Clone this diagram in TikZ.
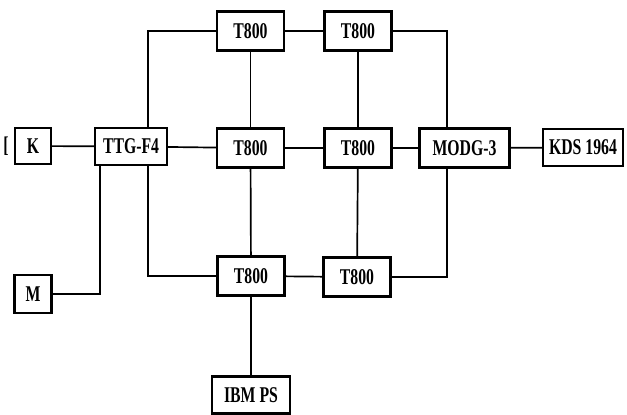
\documentclass[tikz,border=0pt]{standalone}
\usepackage{fontspec}
\setmainfont{Liberation Serif}[FakeStretch=0.7]
\usepackage{tikz}
\usetikzlibrary{positioning,calc}
\tikzset{
  box/.style={draw, line width=1.5pt, fill=white, align=center, inner sep=1pt,
              minimum width=16.75mm, minimum height=9.75mm, font=\fontsize{16}{18}\selectfont\bfseries},
  link/.style={line width=1.2pt},
}

\begin{document}
\begin{tikzpicture}[x=0.025cm, y=-0.025cm]
    \useasboundingbox (0,0) rectangle (627,415);
    % left side
    \node[font=\fontsize{16}{18}\selectfont\bfseries, inner sep=0pt] (brk) at (6,146) {[};
    \node[box, minimum width=9mm, minimum height=9mm] (kbd) at (33,146) {K};
    \node[box, minimum width=9.25mm, minimum height=9.5mm] (mon) at (33,294) {M};
    \node[box, minimum width=18mm, minimum height=9.25mm] (ttg) at (131,146.5) {TTG-F4};
    % transputer grid
    \node[box] (t11) at (250.5,31) {T800};
    \node[box] (t12) at (358,31) {T800};
    \node[box] (t21) at (250.5,148) {T800};
    \node[box] (t22) at (358,148) {T800};
    \node[box] (t31) at (251,276) {T800};
    \node[box] (t32) at (357,277) {T800};
    % right side and host
    \node[box, minimum width=22.5mm] (modg) at (464.5,148) {MODG-3};
    \node[box, minimum width=20mm, minimum height=9.25mm] (kds) at (583,147.5) {KDS 1964};
    \node[box, minimum width=19.5mm, minimum height=9.25mm] (ibm) at (251,395) {IBM PS};
    \coordinate (ltap) at (148,146);
    \coordinate (mtap) at (100,146);
    \coordinate (rtap) at (447,148);

    \draw[link] (kbd) -- (ttg);
    \draw[link] (ttg) -- (t21);
    \draw[link] (t21) -- (t22);
    \draw[link] (t22) -- (modg);
    \draw[link] (modg) -- (kds);
    \draw[link] (t11) -- (t12);
    \draw[link] (t31) -- (t32);
    \draw[link] (t11) -- (t21);
    \draw[link] (t21) -- (t31);
    \draw[link] (t31) -- (ibm);
    \draw[link] (t12) -- (t22);
    \draw[link] (t22) -- (t32);
    \draw[link] (t11.west) -| (ttg.north -| ltap);
    \draw[link] (t31.west) -| (ttg.south -| ltap);
    \draw[link] (mon.east) -| (ttg.south -| mtap);
    \draw[link] (t12.east) -| (modg.north -| rtap);
    \draw[link] (t32.east) -| (modg.south -| rtap);
  \end{tikzpicture}
\end{document}
